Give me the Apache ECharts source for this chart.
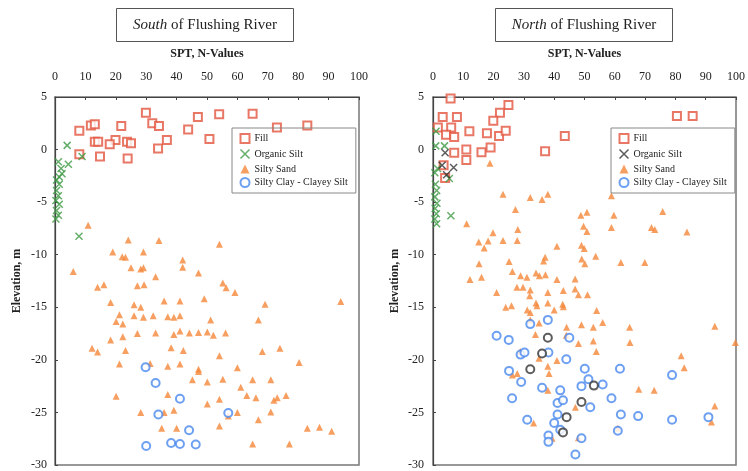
<!DOCTYPE html>
<html>
<head>
<meta charset="utf-8">
<script src="https://cdn.jsdelivr.net/npm/echarts@6/dist/echarts.min.js"></script>
<style>
  html, body { margin: 0; padding: 0; background: #fff; }
  #chart { width: 748px; height: 471px; }
</style>
</head>
<body>
<div id="chart"></div>
<script>
// [SPT N-value, elevation m]
const southFill = [[29.9,3.5],[47,3.1],[54,3.35],[65,3.4],[73,2.1],[83,2.3],[32,2.5],[34.2,2.25],[43.8,1.9],[50.8,1.0],[36.8,0.9],[33.9,0.1],[11.8,2.3],[13.1,2.4],[21.8,2.25],[8,1.8],[13.1,0.75],[14.2,0.75],[19.9,0.9],[18,0.5],[23.7,0.75],[25,0.6],[8,-0.45],[14.8,-0.65],[23.9,-0.85]]
const southOrganic = [[4,0.4],[8.9,-0.65],[1.1,-1.15],[4.4,-1.4],[2,-1.8],[2.3,-2.3],[1.4,-2.6],[0.5,-2.9],[1.4,-3.3],[0.5,-3.9],[1.1,-4.4],[0.3,-4.85],[1.4,-5.2],[0.5,-5.8],[1.1,-6.25],[0.3,-6.6],[7.9,-8.25]]
const southSand = [[10.9,-7.2],[24.1,-8.6],[34.2,-8.65],[54.1,-9.0],[19,-9.75],[22.1,-10.2],[23.2,-10.25],[29.1,-9.75],[42,-10.5],[42,-11.2],[25,-11.25],[28.2,-11.35],[29.1,-11.25],[6,-11.6],[47.2,-11.75],[33.1,-12.1],[14,-13.1],[16.1,-12.85],[27.1,-12.95],[29.3,-12.85],[55.2,-12.7],[56.3,-13.15],[59.2,-13.6],[18.3,-14.55],[26,-14.75],[28.2,-15],[35.9,-14.4],[41.1,-14.4],[49.1,-14.2],[69.1,-14.7],[94,-14.45],
  [21.2,-15.7],[20.1,-16.35],[22.3,-16.6],[26,-15.8],[29.1,-15.95],[32.3,-15.8],[37.1,-15.9],[39.1,-15.95],[41.1,-15.8],[51.2,-16.2],[66.9,-16.2],[18.3,-18.1],[22.3,-17.8],[27.1,-17.5],[33.1,-17.45],[39.1,-17.6],[41.1,-17.25],[44.2,-17.45],[47.2,-17.4],[50.1,-17.35],[52.1,-17.65],[56.1,-17.45],
  [12.2,-18.9],[14,-19.25],[23.2,-19.1],[38.2,-18.85],[42.2,-19.1],[54.1,-19.6],[68.2,-19.2],[74,-18.9],[80.3,-20.25],[21.2,-20.4],[31.3,-20.35],[37.1,-20.6],[41.1,-20.4],[47.2,-20.9],[47.2,-21.1],[60,-20.75],[45.2,-21.9],[50.1,-22.1],[55.2,-21.85],[61.1,-22.6],[65,-21.9],[71,-21.9],
  [20.1,-23.45],[37.1,-23.3],[54.1,-23.75],[50.1,-24.2],[63.1,-23.4],[66.1,-23.6],[72,-23.85],[73.1,-23.6],[76,-23.4],[28.2,-25],[35.9,-25],[39.1,-24.8],[60,-25],[71,-24.95],[66.9,-25.7],[57,-25.35],[35.1,-26.5],[40,-26.5],[54.1,-26.3],[83,-26.5],[87,-26.4],[91,-26.8],[65,-28],[77.1,-28]]
const southClay = [[29.8,-20.7],[33.1,-22.2],[41.1,-23.7],[34,-25.2],[57,-25.05],[44.1,-26.7],[30,-28.2],[38.2,-27.9],[41.1,-28],[46.3,-28.05]]

const northFill = [[5.8,4.85],[24.9,4.25],[22.1,3.5],[19.9,2.75],[3.2,3.1],[7.9,3.1],[1.6,2.1],[6,2.1],[12,1.75],[17.8,1.55],[21.8,1.3],[24,1.8],[4.3,1.4],[7,1.2],[43.5,1.3],[80.5,3.2],[85.7,3.2],[11,0.0],[16,-0.25],[19,0.2],[37,-0.15],[7,-0.3],[11,-1.0],[3.5,-1.5],[4,-2.7]]
const northOrganic = [[4,-0.3],[3,-1.5],[6.8,-1.7],[4.5,-2.4]]
const northOrganicGreen = [[1,1.75],[0.9,0.35],[3.8,0.35],[1.5,-1.8],[0.6,-2.2],[5.4,-2.75],[0.8,-3.3],[1.2,-3.9],[0.6,-4.5],[1.3,-5.1],[0.7,-5.6],[1.1,-6.1],[0.6,-6.6],[1.2,-7.05],[5.9,-6.3]]
const northSand = [[18.8,-1.3],[23.1,-4.25],[32.1,-4.55],[36,-4.75],[37.9,-4.25],[58.9,-4.4],[27.2,-5.7],[48.8,-6.25],[50.8,-5.95],[59.7,-6.25],[75.8,-5.9],
  [11.1,-7.05],[28,-7.6],[49.7,-7.3],[50.8,-7.8],[58.9,-7.4],[72.1,-7.4],[73.2,-7.6],[83.8,-7.85],[19.8,-7.9],
  [15.1,-8.8],[18.2,-8.7],[16.9,-9.35],[23.1,-8.65],[27.8,-8.65],[40.9,-9.2],[49,-9.1],[49.9,-9.4],
  [53.7,-10.15],[49.1,-10.4],[50.1,-10.85],[62,-10.75],[69.9,-10.75],[37,-10.25],[36.5,-10.6],[25.1,-10.65],[15.2,-10.85],
  [12.2,-12.35],[16,-12.15],[26.2,-11.6],[28.9,-12],[31,-12.15],[34,-11.75],[35.1,-12],[37.1,-11.9],[40.9,-12.35],[46.9,-12.3],
  [27.7,-13.1],[29.7,-13.1],[32.1,-13.35],[31.9,-13.9],[21,-13.6],[37.9,-13.6],[43,-13.4],[46.9,-13.25],[48,-13.8],[51,-13.8],
  [34,-14.6],[34.3,-14.85],[37.9,-14.6],[42.8,-14.7],[43,-14.95],[24,-15],[25.9,-14.85],[54,-15.3],[31.1,-15.25],[32.1,-15.5],[40,-15.25],
  [32.1,-16.2],[35,-16.5],[44.1,-16.9],[49,-16.65],[52.9,-16.9],[56,-16.45],[64.9,-16.9],[93,-16.8],
  [33.8,-17.6],[44,-17.65],[48,-18.45],[52.9,-18.2],[65,-18.35],[99.8,-18.35],
  [28.8,-19.2],[53.9,-19.2],[81.9,-19.6],[35,-19.85],[40.9,-20.05],[37.9,-20.6],[38.3,-21.3],[26.2,-21.45],[27.8,-21.3],[82.9,-20.75],
  [37.9,-22.9],[67.9,-22.8],[73,-22.9],[47,-24.5],[93,-24.4],[33.2,-26],[91.9,-25.9],[39.3,-27.45],[48,-27.4],[61,-26.5]]
const northClay = [[32.1,-16.6],[37.9,-16.2],[21,-17.7],[25,-18.1],[45,-17.9],[28.9,-19.5],[30.2,-19.3],[38.1,-19.3],[44,-19.95],[25.1,-21.05],[29.1,-22.1],[36,-22.65],[42,-22.9],[50.1,-20.85],[51.3,-21.85],[49,-22.5],[56,-22.35],[61.7,-20.85],[78.9,-21.45],
  [26.1,-23.65],[41.1,-24.1],[42.9,-23.85],[51.9,-24.5],[58.9,-23.65],[41.1,-25.2],[62,-25.2],[67.7,-25.35],[78.9,-25.7],[90.9,-25.45],[31.1,-25.7],[40,-26],[42,-26.65],[61,-26.75],[38.1,-27.2],[38.1,-27.8],[49,-27.45],[47,-29]]
const northClayDark = [[37.9,-17.9],[36,-19.4],[32.1,-20.9],[53.1,-22.45],[49,-24],[44.1,-25.45],[42.9,-26.9]]

const FONT = 'Liberation Serif'
const C = { fill: '#e2553f', green: '#3f9a45', sand: '#f5873a', clay: '#4a88ee', dark: '#333333' }
const XMARK = 'path://M0,0L10,10M10,0L0,10'

function grid(left, right) {
  return { left, right, top: 97, bottom: 6, show: true, borderColor: '#777', borderWidth: 1.5 }
}
function xAxis(i) {
  return {
    gridIndex: i, type: 'value', position: 'top', min: 0, max: 100, interval: 10,
    name: 'SPT, N-Values', nameLocation: 'middle', nameGap: 37,
    nameTextStyle: { fontFamily: FONT, fontWeight: 'bold', fontSize: 12, color: '#222' },
    axisLine: { onZero: false, lineStyle: { color: '#444', width: 1.2 } },
    axisTick: { inside: true, length: 3, lineStyle: { color: '#444' } },
    axisLabel: { fontFamily: FONT, fontSize: 12, color: '#222', margin: 14 },
    splitLine: { show: false }
  }
}
function yAxis(i, margin) {
  return {
    gridIndex: i, type: 'value', min: -30, max: 5, interval: 5,
    name: 'Elevation, m', nameLocation: 'middle', nameGap: 32,
    nameTextStyle: { fontFamily: FONT, fontWeight: 'bold', fontSize: 12, color: '#222' },
    axisLine: { onZero: false, lineStyle: { color: '#444', width: 1.2 } },
    axisTick: { inside: true, length: 3, lineStyle: { color: '#444' } },
    axisLabel: { fontFamily: FONT, fontSize: 12, color: '#222', margin },
    splitLine: { show: false }
  }
}
function scatter(name, i, data, symbol, size, style) {
  return { name, type: 'scatter', xAxisIndex: i, yAxisIndex: i, data, symbol, symbolSize: size, itemStyle: style, silent: true }
}
const cross = (c) => ({ color: 'none', borderColor: c, borderWidth: 1.5 })

function legend(left, organicColor) {
  return {
    orient: 'vertical', left, top: 128, itemGap: 3, itemWidth: 9, itemHeight: 9,
    padding: [5, 8, 5, 6], borderColor: '#888', borderWidth: 1,
    textStyle: { fontFamily: FONT, fontSize: 10, color: '#222' },
    data: [
      { name: 'Fill', icon: 'emptyRect', itemStyle: { color: C.fill } },
      { name: 'Organic Silt', icon: XMARK, itemStyle: { color: 'none', borderColor: organicColor, borderWidth: 1.5 } },
      { name: 'Silty Sand', icon: 'triangle', itemStyle: { color: C.sand } },
      { name: 'Silty Clay - Clayey Silt', icon: 'emptyCircle', itemStyle: { color: C.clay } }
    ]
  }
}

function titleBox(x, w, word) {
  return {
    type: 'group', left: x, top: 8,
    children: [
      { type: 'rect', shape: { x: 0, y: 0, width: w, height: 33 }, style: { fill: '#fff', stroke: '#555', lineWidth: 1 } },
      { type: 'text', x: w / 2, y: 17, style: {
          text: '{i|' + word + '} of Flushing River', align: 'center', verticalAlign: 'middle',
          font: '15px ' + FONT, fill: '#222',
          rich: { i: { fontStyle: 'italic', fontFamily: FONT, fontSize: 15 } }
      } }
    ]
  }
}

const chart = echarts.init(document.getElementById('chart'))
chart.setOption({
  backgroundColor: '#fff',
  animation: false,
  graphic: [titleBox(116, 177, 'South'), titleBox(495, 177, 'North')],
  grid: [grid(55, 389), grid(433, 10)],
  xAxis: [xAxis(0), xAxis(1)],
  yAxis: [yAxis(0, 8), yAxis(1, 9)],
  legend: [legend(232, C.green), legend(611, C.dark)],
  series: [
    scatter('Fill', 0, southFill, 'emptyRect', 8, { color: C.fill }),
    scatter('Organic Silt', 0, southOrganic, XMARK, 7, cross(C.green)),
    scatter('Silty Sand', 0, southSand, 'triangle', 7, { color: C.sand }),
    scatter('Silty Clay - Clayey Silt', 0, southClay, 'emptyCircle', 8, { color: C.clay, borderWidth: 1.4 }),
    scatter('Fill', 1, northFill, 'emptyRect', 8, { color: C.fill }),
    scatter('Organic Silt (green)', 1, northOrganicGreen, XMARK, 7, cross(C.green)),
    scatter('Organic Silt', 1, northOrganic, XMARK, 7, cross(C.dark)),
    scatter('Silty Sand', 1, northSand, 'triangle', 7, { color: C.sand }),
    scatter('Silty Clay - Clayey Silt', 1, northClay, 'emptyCircle', 8, { color: C.clay, borderWidth: 1.4 }),
    scatter('Silty Clay (dark)', 1, northClayDark, 'emptyCircle', 8, { color: C.dark, borderWidth: 1.4 })
  ]
})
</script>
</body>
</html>
